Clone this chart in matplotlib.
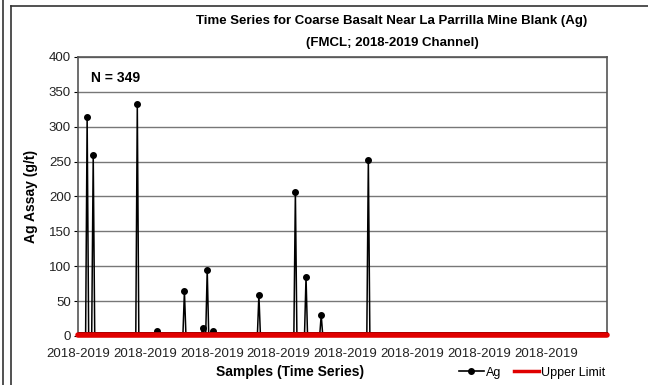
import numpy as np
import matplotlib
matplotlib.use("Agg")
import matplotlib.pyplot as plt
from matplotlib.lines import Line2D

plt.rcParams['font.family'] = ['Liberation Sans', 'DejaVu Sans']

# data
n_samples = 349
base_value = 1.0
spike_idx = [6, 10, 39, 52, 70, 82, 85, 89, 119, 143, 150, 160, 191]
spike_val = [314, 260, 332, 7, 64, 11, 95, 7, 59, 207, 85, 30, 253]
upper_limit = 1.0
tick_step = 44
tick_label = "2018-2019"

ag = np.full(n_samples, base_value)
for i, v in zip(spike_idx, spike_val):
    ag[i] = v
samples = np.arange(n_samples)

fig = plt.figure(figsize=(6.48, 3.85), dpi=100)
ax = fig.add_axes([0.1204, 0.1273, 0.8163, 0.7247])

ax.plot(samples, ag, color='black', lw=1.1, marker='o', ms=4, zorder=3)
ax.plot([samples[0], samples[-1]], [upper_limit, upper_limit],
        color='#e00000', lw=4, solid_capstyle='round', zorder=4, clip_on=False)

ax.set_xlim(0, n_samples - 1)
ax.set_ylim(0, 400)
ax.set_yticks(np.arange(0, 401, 50))
ticks = np.arange(0, n_samples, tick_step)
ax.set_xticks(ticks)
ax.set_xticklabels([tick_label] * len(ticks))
ax.tick_params(axis='x', length=0, labelsize=9.5, pad=9, labelcolor='#222222')
ax.tick_params(axis='y', length=3, labelsize=9.5, pad=2, labelcolor='#222222')
ax.grid(axis='y', color='#777777', lw=1)
ax.set_axisbelow(True)
for s in ax.spines.values():
    s.set_color('#555555')
    s.set_linewidth(1.2)

ax.set_ylabel('Ag Assay (g/t)', fontsize=10, fontweight='bold', labelpad=8)
fig.text(0.448, 0.035, 'Samples (Time Series)', fontsize=10, fontweight='bold',
         ha='center', va='center')
fig.text(0.605, 0.945, 'Time Series for Coarse Basalt Near La Parrilla Mine Blank (Ag)',
         fontsize=9.5, fontweight='bold', ha='center', va='center')
fig.text(0.605, 0.888, '(FMCL; 2018-2019 Channel)',
         fontsize=9.5, fontweight='bold', ha='center', va='center')
ax.text(0.025, 0.95, 'N = 349', transform=ax.transAxes, fontsize=10,
        fontweight='bold', ha='left', va='top')

handles = [Line2D([], [], color='black', lw=1.2, marker='o', ms=4),
           Line2D([], [], color='#e00000', lw=2.5)]
fig.legend(handles, ['Ag', 'Upper Limit'], loc='center right',
           bbox_to_anchor=(0.952, 0.032), ncol=2, frameon=False, fontsize=9,
           handlelength=2.0, handletextpad=0.2, columnspacing=1.0)

# outer frame lines
fig.add_artist(Line2D([3 / 648, 3 / 648], [0, 1], color='#333333', lw=1.2))
fig.add_artist(Line2D([11 / 648, 11 / 648], [0, 379 / 385], color='#333333', lw=1.2))
fig.add_artist(Line2D([11 / 648, 1], [379 / 385, 379 / 385], color='#333333', lw=1.2))

fig.savefig('out.png', dpi=100)
